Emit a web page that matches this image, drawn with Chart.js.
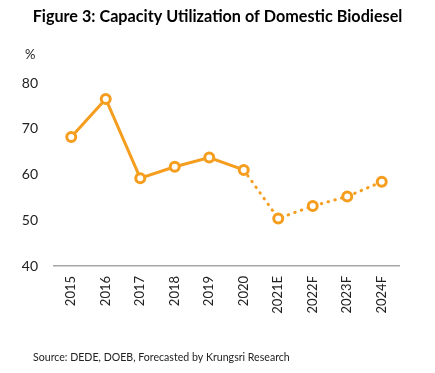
<!DOCTYPE html>
<html>
<head>
<meta charset="utf-8">
<script src="https://cdn.jsdelivr.net/npm/chart.js@4"></script>
<style>
html,body{margin:0;padding:0;background:#fff;}
#wrap{position:relative;width:435px;height:373px;}
</style>
</head>
<body>
<div id="wrap"><canvas id="c" width="435" height="373"></canvas></div>
<script>
const categories = ["2015","2016","2017","2018","2019","2020","2021E","2022F","2023F","2024F"];
const utilization = [68.2, 76.5, 59.2, 61.7, 63.7, 61.0, 50.4, 53.1, 55.2, 58.4];
const yTicks = [40, 50, 60, 70, 80];
const titleText = "Figure 3: Capacity Utilization of Domestic Biodiesel";
const sourceText = "Source: DEDE, DOEB, Forecasted by Krungsri Research";
const unitText = "%";
const forecastStartIndex = 5;

const ORANGE = "#F59D1E";

const textPlugin = {
  id: 'extraText',
  afterDraw(chart) {
    const ctx = chart.ctx;
    ctx.save();
    ctx.fillStyle = "#000";
    ctx.textBaseline = "middle";
    ctx.font = "bold 16.2px Lato";
    ctx.textAlign = "center";
    ctx.fillText(titleText, 217.5, 17);
    ctx.font = "13px Lato";
    ctx.fillStyle = "#222";
    ctx.textAlign = "left";
    ctx.fillText(unitText, 25, 55);
    ctx.font = "10.6px Lato";
    ctx.fillText(sourceText, 33, 358);
    ctx.restore();
  }
};

new Chart(document.getElementById('c'), {
  type: 'line',
  data: {
    labels: categories,
    datasets: [{
      data: utilization,
      borderColor: ORANGE,
      borderWidth: 3,
      borderCapStyle: 'round',
      tension: 0,
      pointRadius: 4.5,
      pointBorderWidth: 3,
      pointBackgroundColor: '#fff',
      pointBorderColor: ORANGE,
      segment: {
        borderDash: c => c.p0DataIndex >= forecastStartIndex ? [0.5, 6.5] : undefined
      }
    }]
  },
  options: {
    responsive: false,
    animation: false,
    layout: { padding: { left: 0, right: 36, top: 83, bottom: 0 } },
    plugins: { legend: { display: false }, tooltip: { enabled: false } },
    scales: {
      x: {
        offset: true,
        grid: { display: false, drawTicks: false },
        border: { display: true, color: '#A6A6A6', width: 1.5 },
        ticks: { color: '#222', font: { family: 'Lato', size: 13 }, maxRotation: 90, minRotation: 90, padding: 10, autoSkip: false },
        afterFit: s => { s.height = 107; }
      },
      y: {
        min: yTicks[0],
        max: yTicks[yTicks.length - 1],
        afterBuildTicks: s => { s.ticks = yTicks.map(v => ({ value: v })); },
        grid: { display: false, drawTicks: false },
        border: { display: false },
        ticks: { color: '#222', font: { family: 'Lato', size: 14 }, padding: 16 },
        afterFit: s => { s.width = 54; }
      }
    }
  },
  plugins: [textPlugin]
});
</script>
</body>
</html>
